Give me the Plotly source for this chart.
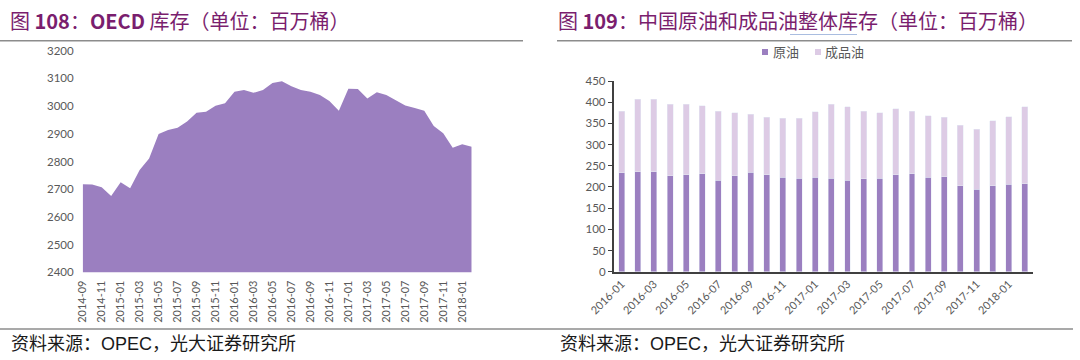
import plotly.graph_objects as go

# ---------------- data ----------------
oecd_months = ["2014-09", "2014-10", "2014-11", "2014-12", "2015-01", "2015-02", "2015-03", "2015-04",
               "2015-05", "2015-06", "2015-07", "2015-08", "2015-09", "2015-10", "2015-11", "2015-12",
               "2016-01", "2016-02", "2016-03", "2016-04", "2016-05", "2016-06", "2016-07", "2016-08",
               "2016-09", "2016-10", "2016-11", "2016-12", "2017-01", "2017-02", "2017-03", "2017-04",
               "2017-05", "2017-06", "2017-07", "2017-08", "2017-09", "2017-10", "2017-11", "2017-12",
               "2018-01", "2018-02"]
oecd_stock = [2718, 2717, 2707, 2675, 2725, 2703, 2769, 2811, 2899, 2914, 2922, 2944, 2976, 2980,
              3001, 3010, 3052, 3058, 3048, 3058, 3083, 3090, 3072, 3058, 3052, 3040, 3018, 2983,
              3063, 3062, 3027, 3050, 3040, 3022, 3002, 2993, 2983, 2928, 2902, 2850, 2862, 2853]
oecd_ticks = [m for i, m in enumerate(oecd_months) if i % 2 == 0]
oecd_yticks = [2400, 2500, 2600, 2700, 2800, 2900, 3000, 3100, 3200]

china_months = ["2016-01", "2016-02", "2016-03", "2016-04", "2016-05", "2016-06", "2016-07", "2016-08",
                "2016-09", "2016-10", "2016-11", "2016-12", "2017-01", "2017-02", "2017-03", "2017-04",
                "2017-05", "2017-06", "2017-07", "2017-08", "2017-09", "2017-10", "2017-11", "2017-12",
                "2018-01", "2018-02"]
crude = [234, 236, 236, 227, 229, 231, 216, 227, 235, 229, 223, 221, 223, 221, 216, 219, 221, 229,
         231, 223, 224, 203, 195, 203, 206, 208]
products = [145, 171, 171, 168, 166, 161, 163, 148, 137, 135, 139, 141, 154, 174, 173, 160, 154, 155,
            148, 145, 140, 143, 141, 153, 160, 181]
china_ticks = [m for i, m in enumerate(china_months) if i % 2 == 0]
series_names = ["原油", "成品油"]

# ---------------- style ----------------
W, H = 1080, 360
PURPLE = "#9b7fc0"
LAVENDER = "#ddcbe5"
TITLE_COLOR = "#7a1e6e"
TICK_COLOR = "#595959"
TICK_FONT = "Lato, 'Noto Sans', sans-serif"
CJK = "'Noto Sans CJK SC', sans-serif"


def px_x(v):
    return v / W


def px_y(v):
    return 1 - v / H


fig = go.Figure()

# left chart: OECD area
fig.add_trace(go.Scatter(
    x=oecd_months, y=oecd_stock, mode="lines", fill="tozeroy",
    line=dict(width=0, color=PURPLE), fillcolor=PURPLE,
    xaxis="x", yaxis="y", showlegend=False, hoverinfo="x+y"))

# right chart: stacked bars
fig.add_trace(go.Bar(x=china_months, y=crude, name=series_names[0], marker_color=PURPLE,
                     xaxis="x2", yaxis="y2", showlegend=False))
fig.add_trace(go.Bar(x=china_months, y=products, name=series_names[1], marker_color=LAVENDER,
                     xaxis="x2", yaxis="y2", showlegend=False))

fig.update_layout(
    width=W, height=H, autosize=False,
    margin=dict(l=0, r=0, t=0, b=0, pad=0, autoexpand=False),
    paper_bgcolor="white", plot_bgcolor="white",
    showlegend=False,
    barmode="stack", bargap=0.63,
    font=dict(family=TICK_FONT, color=TICK_COLOR),
    xaxis=dict(domain=[px_x(82.7), px_x(471.7)], type="category", range=[0, len(oecd_months) - 1],
               tickmode="array", tickvals=oecd_ticks, ticktext=oecd_ticks, tickangle=-90,
               tickfont=dict(size=11, color=TICK_COLOR), showgrid=False, zeroline=False,
               showline=False, ticks="", anchor="y", automargin=False, ticklabelstandoff=5),
    yaxis=dict(domain=[px_y(272.3), px_y(50.7)], range=[2400, 3200], tickvals=oecd_yticks,
               tickfont=dict(size=11.5, color=TICK_COLOR), showgrid=False, zeroline=False,
               showline=False, ticks="", anchor="x", ticklabelstandoff=8, automargin=False),
    xaxis2=dict(domain=[px_x(613.6), px_x(1033)], type="category", range=[-0.5, len(china_months) - 0.5],
                tickmode="array", tickvals=china_ticks, ticktext=china_ticks, tickangle=-45,
                tickfont=dict(size=11, color=TICK_COLOR), showgrid=False, zeroline=False,
                showline=True, linecolor="#404040", linewidth=1.5, ticks="", anchor="y2",
                automargin=False),
    yaxis2=dict(domain=[px_y(271.7), px_y(81)], range=[0, 450], dtick=50,
                tickfont=dict(size=11.5, color=TICK_COLOR), showgrid=False, zeroline=False,
                showline=True, linecolor="#404040", linewidth=1.5, ticks="outside", ticklen=4,
                tickcolor="#404040", anchor="x2", automargin=False),
)

shapes = []
# rules
shapes.append(dict(type="line", xref="paper", yref="paper", x0=0, x1=px_x(523), y0=px_y(40.7), y1=px_y(40.7),
                   line=dict(color="#8c8c8c", width=1.5)))
shapes.append(dict(type="line", xref="paper", yref="paper", x0=px_x(557), x1=px_x(1072), y0=px_y(40.7), y1=px_y(40.7),
                   line=dict(color="#8c8c8c", width=1.5)))
shapes.append(dict(type="line", xref="paper", yref="paper", x0=0, x1=px_x(1073), y0=px_y(329), y1=px_y(329),
                   line=dict(color="#8c8c8c", width=1.5)))
# spell-check underline in the right-hand title
shapes.append(dict(type="line", xref="paper", yref="paper", x0=px_x(790), x1=px_x(857), y0=px_y(34.5), y1=px_y(34.5),
                   line=dict(color="#a9bde0", width=1)))
# legend squares
shapes.append(dict(type="rect", xref="paper", yref="paper", x0=px_x(762), x1=px_x(768), y0=px_y(55), y1=px_y(49),
                   fillcolor=PURPLE, line=dict(width=0)))
shapes.append(dict(type="rect", xref="paper", yref="paper", x0=px_x(815), x1=px_x(821), y0=px_y(55), y1=px_y(49),
                   fillcolor=LAVENDER, line=dict(width=0)))
fig.update_layout(shapes=shapes)

annotations = [
    dict(text="图 <b>108</b>：<b>OECD</b> 库存（单位：百万桶）", x=px_x(8), y=px_y(20), xanchor="left",
         yanchor="middle", font=dict(family=CJK, size=20, color=TITLE_COLOR)),
    dict(text="图 <b>109</b>：中国原油和成品油整体库存（单位：百万桶）", x=px_x(556), y=px_y(20), xanchor="left",
         yanchor="middle", font=dict(family=CJK, size=20, color=TITLE_COLOR)),
    dict(text="资料来源：OPEC，光大证券研究所", x=px_x(9), y=px_y(344), xanchor="left", yanchor="middle",
         font=dict(family="'Liberation Sans', " + CJK, size=18, color="#1a1a1a")),
    dict(text="资料来源：OPEC，光大证券研究所", x=px_x(558), y=px_y(344), xanchor="left", yanchor="middle",
         font=dict(family="'Liberation Sans', " + CJK, size=18, color="#1a1a1a")),
    dict(text=series_names[0], x=px_x(771), y=px_y(52), xanchor="left", yanchor="middle",
         font=dict(family=CJK, size=13, color=TICK_COLOR)),
    dict(text=series_names[1], x=px_x(823), y=px_y(52), xanchor="left", yanchor="middle",
         font=dict(family=CJK, size=13, color=TICK_COLOR)),
]
for a in annotations:
    a.update(xref="paper", yref="paper", showarrow=False)
fig.update_layout(annotations=annotations)

fig.write_html("out.html", config={"displayModeBar": False},
               post_script="document.body.style.margin='0';")
